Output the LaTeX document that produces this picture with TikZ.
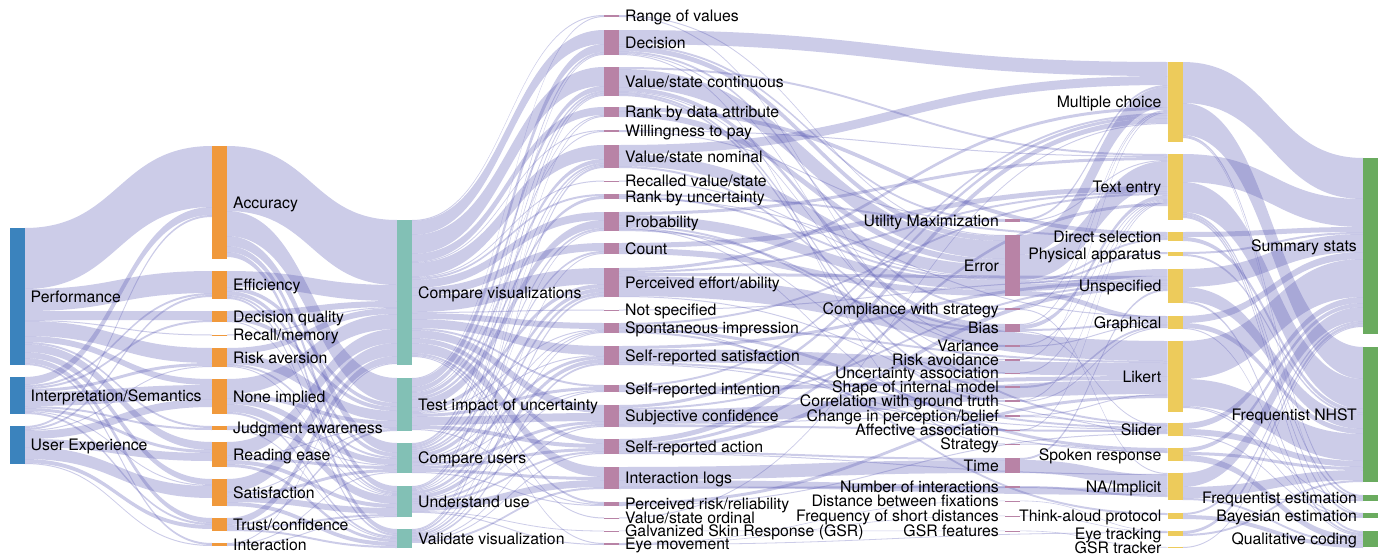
\documentclass[tikz,border=0pt]{standalone}
\usepackage{fontspec}
\setmainfont{TeX Gyre Heros}
\usepackage{xcolor}
\definecolor{colorGoal}{HTML}{3B83BD}
\definecolor{colorMeasure}{HTML}{F0993C}
\definecolor{colorStudy}{HTML}{82C0B5}
\definecolor{colorResponse}{HTML}{B883A6}
\definecolor{colorFormat}{HTML}{EDCB5B}
\definecolor{colorAnalysis}{HTML}{6AAB5F}
\definecolor{colorBand}{RGB}{85,85,178}
\usepackage{tikz}
\usetikzlibrary{calc}
\pgfdeclarelayer{bg}
\pgfsetlayers{bg,main}

\tikzset{
  band/.style={fill=colorBand, fill opacity=0.3},
  lbl/.style={font=\fontsize{15.8}{16}\selectfont, inner sep=0pt, text height=13pt, text depth=2pt},
  bar/.style={rectangle, inner sep=0pt, outer sep=0pt, minimum width=15pt, anchor=north},
  goalbar/.style={bar, fill=colorGoal, label={[lbl]right:#1}},
  measurebar/.style={bar, fill=colorMeasure, label={[lbl]right:#1}},
  studybar/.style={bar, fill=colorStudy, label={[lbl]right:#1}},
  responsebar/.style={bar, fill=colorResponse, label={[lbl]right:#1}},
  metricbar/.style={bar, fill=colorResponse, label={[lbl]left:#1}},
  formatbar/.style={bar, fill=colorFormat, label={[lbl]left:#1}},
  analysisbar/.style={bar, fill=colorAnalysis, label={[lbl]left:#1}},
}

% one band from node #1 to node #2, #3 wide; bands stack down each node
\newcommand{\flow}[3]{%
  \ifcsname fo@#1\endcsname\else\expandafter\gdef\csname fo@#1\endcsname{0}\fi
  \ifcsname fi@#2\endcsname\else\expandafter\gdef\csname fi@#2\endcsname{0}\fi
  \pgfmathsetmacro{\fso}{\csname fo@#1\endcsname}%
  \pgfmathsetmacro{\fsi}{\csname fi@#2\endcsname}%
  \path ($(#1.north east)+(0,\fso)$) coordinate (fa)
        ($(#2.north west)+(0,\fsi)$) coordinate (fb)
        ($(fa)+(0,#3)$) coordinate (fc)
        ($(fb)+(0,#3)$) coordinate (fd)
        ($(fa)!.5!(fb)$) coordinate (fm);
  \fill[band] (fa) .. controls (fa -| fm) and (fb -| fm) .. (fb) -- (fd)
    .. controls (fd -| fm) and (fc -| fm) .. (fc) -- cycle;
  \pgfmathsetmacro{\fso}{\fso+#3}\expandafter\xdef\csname fo@#1\endcsname{\fso}%
  \pgfmathsetmacro{\fsi}{\fsi+#3}\expandafter\xdef\csname fi@#2\endcsname{\fsi}%
}
\newcommand{\flows}[2]{\foreach \fdst/\fw in {#2}{\flow{#1}{\fdst}{\fw}}}

\begin{document}
\begin{tikzpicture}[x=1pt, y=-1pt, label distance=6pt]
\useasboundingbox (0,0) rectangle (1382,554);

% evaluation goals
\node[goalbar={Performance}, minimum height=137pt] (perf) at (17,228) {};
\node[goalbar={Interpretation/Semantics}, minimum height=37pt] (interp) at (17,377) {};
\node[goalbar={User Experience}, minimum height=38pt] (ux) at (17,426) {};

% measures
\node[measurebar={Accuracy}, minimum height=113pt] (acc) at (219.5,146) {};
\node[measurebar={Efficiency}, minimum height=28pt] (eff) at (219.5,271) {};
\node[measurebar={Decision quality}, minimum height=11pt] (dq) at (219.5,311) {};
\node[measurebar={Recall/memory}, minimum height=1pt] (rec) at (219.5,334.5) {};
\node[measurebar={Risk aversion}, minimum height=19pt] (ra) at (219.5,348) {};
\node[measurebar={None implied}, minimum height=35pt] (ni) at (219.5,379) {};
\node[measurebar={Judgment awareness}, minimum height=4pt] (ja) at (219.5,426) {};
\node[measurebar={Reading ease}, minimum height=25pt] (re) at (219.5,442) {};
\node[measurebar={Satisfaction}, minimum height=27pt] (sat) at (219.5,479) {};
\node[measurebar={Trust/confidence}, minimum height=13pt] (tc) at (219.5,518) {};
\node[measurebar={Interaction}, minimum height=3pt] (inter) at (219.5,543) {};

% study goals
\node[studybar={Compare visualizations}, minimum height=145pt] (cv) at (404.5,220) {};
\node[studybar={Test impact of uncertainty}, minimum height=53pt] (ti) at (404.5,378) {};
\node[studybar={Compare users}, minimum height=30pt] (cu) at (404.5,443) {};
\node[studybar={Understand use}, minimum height=31pt] (uu) at (404.5,486) {};
\node[studybar={Validate visualization}, minimum height=19pt] (vv) at (404.5,529) {};

% elicited responses
\node[responsebar={Range of values}, minimum height=2pt] (rv) at (611.5,15) {};
\node[responsebar={Decision}, minimum height=25pt] (dec) at (611.5,30) {};
\node[responsebar={Value/state continuous}, minimum height=29pt] (vsc) at (611.5,67) {};
\node[responsebar={Rank by data attribute}, minimum height=10pt] (rda) at (611.5,107) {};
\node[responsebar={Willingness to pay}, minimum height=2pt] (wtp) at (611.5,130) {};
\node[responsebar={Value/state nominal}, minimum height=23pt] (vsn) at (611.5,145) {};
\node[responsebar={Recalled value/state}, minimum height=1pt] (rvs) at (611.5,180.5) {};
\node[responsebar={Rank by uncertainty}, minimum height=5pt] (ru) at (611.5,194) {};
\node[responsebar={Probability}, minimum height=19pt] (prob) at (611.5,212) {};
\node[responsebar={Count}, minimum height=11pt] (cnt) at (611.5,243) {};
\node[responsebar={Perceived effort/ability}, minimum height=29pt] (pea) at (611.5,268) {};
\node[responsebar={Not specified}, minimum height=1pt] (ns) at (611.5,309.5) {};
\node[responsebar={Spontaneous impression}, minimum height=10pt] (si) at (611.5,323) {};
\node[responsebar={Self-reported satisfaction}, minimum height=19pt] (srs) at (611.5,346) {};
\node[responsebar={Self-reported intention}, minimum height=7pt] (sri) at (611.5,385) {};
\node[responsebar={Subjective confidence}, minimum height=22pt] (sc) at (611.5,405) {};
\node[responsebar={Self-reported action}, minimum height=15pt] (sra) at (611.5,439) {};
\node[responsebar={Interaction logs}, minimum height=22pt] (il) at (611.5,467) {};
\node[responsebar={Perceived risk/reliability}, minimum height=4pt] (prr) at (611.5,502) {};
\node[responsebar={Value/state ordinal}, minimum height=1pt] (vso) at (611.5,517.5) {};
\node[responsebar={Galvanized Skin Response (GSR)}, minimum height=0.8pt] (gsr) at (611.5,530.6) {};
\node[responsebar={Eye movement}, minimum height=2pt] (em) at (611.5,543) {};

% derived metrics
\node[metricbar={Utility Maximization}, minimum height=3pt] (um) at (1012.5,219) {};
\node[metricbar={Error}, minimum height=61pt] (err) at (1012.5,235) {};
\node[metricbar={Compliance with strategy}, minimum height=2pt] (cs) at (1012.5,308) {};
\node[metricbar={Bias}, minimum height=8pt] (bias) at (1012.5,324) {};
\node[metricbar={Variance}, minimum height=2pt] (var) at (1012.5,345) {};
\node[metricbar={Risk avoidance}, minimum height=1.5pt] (rav) at (1012.5,359) {};
\node[metricbar={Uncertainty association}, minimum height=1.5pt] (ua) at (1012.5,372.5) {};
\node[metricbar={Shape of internal model}, minimum height=2pt] (sim) at (1012.5,386) {};
\node[metricbar={Correlation with ground truth}, minimum height=2pt] (cgt) at (1012.5,400) {};
\node[metricbar={Change in perception/belief}, minimum height=2pt] (cpb) at (1012.5,415) {};
\node[metricbar={Affective association}, minimum height=1.5pt] (aa) at (1012.5,429.5) {};
\node[metricbar={Strategy}, minimum height=1.5pt] (str) at (1012.5,443.5) {};
\node[metricbar={Time}, minimum height=15pt] (time) at (1012.5,458) {};
\node[metricbar={Number of interactions}, minimum height=2pt] (noi) at (1012.5,486) {};
\node[metricbar={Distance between fixations}, minimum height=0.8pt] (dbf) at (1012.5,500.6) {};
\node[metricbar={Frequency of short distances}, minimum height=0.8pt] (fsd) at (1012.5,515.6) {};
\node[metricbar={GSR features}, minimum height=0.8pt] (gsrf) at (1012.5,530.6) {};

% response formats
\node[formatbar={Multiple choice}, minimum height=80pt] (mc) at (1175,62) {};
\node[formatbar={Text entry}, minimum height=66pt] (te) at (1175,154) {};
\node[formatbar={Direct selection}, minimum height=9pt] (ds) at (1175,232) {};
\node[formatbar={Physical apparatus}, minimum height=4pt] (pa) at (1175,252) {};
\node[formatbar={Unspecified}, minimum height=34pt] (un) at (1175,269) {};
\node[formatbar={Graphical}, minimum height=13pt] (gr) at (1175,316) {};
\node[formatbar={Likert}, minimum height=71pt] (lik) at (1175,341) {};
\node[formatbar={Slider}, minimum height=13pt] (sl) at (1175,423) {};
\node[formatbar={Spoken response}, minimum height=13pt] (sr) at (1175,448) {};
\node[formatbar={NA/Implicit}, minimum height=27pt] (na) at (1175,473) {};
\node[formatbar={Think-aloud protocol}, minimum height=6pt] (ta) at (1175,513) {};
\node[formatbar={Eye tracking}, minimum height=5pt] (et) at (1175,531) {};
\node[formatbar={GSR tracker}, minimum height=1pt] (gt) at (1175,547) {};

% analyses
\node[analysisbar={Summary stats}, minimum height=176pt] (ss) at (1370.5,158) {};
\node[analysisbar={Frequentist NHST}, minimum height=135pt] (fn) at (1370.5,347) {};
\node[analysisbar={Frequentist estimation}, minimum height=6pt] (fe) at (1370.5,495) {};
\node[analysisbar={Bayesian estimation}, minimum height=5pt] (be) at (1370.5,513) {};
\node[analysisbar={Qualitative coding}, minimum height=16pt] (qc) at (1370.5,531) {};

\begin{pgfonlayer}{bg}
% goals -> measures
\flows{perf}{acc/61, eff/22, dq/9, rec/1, ra/15, ni/6, ja/2, re/8, sat/6, tc/5, inter/2}
\flows{interp}{acc/8, eff/2, dq/2, ra/3, ni/14, ja/2, re/3, sat/1, tc/2}
\flows{ux}{acc/2, eff/2, ra/1, ni/8, re/8, sat/12, tc/4, inter/1}

% measures -> study goals
\flows{acc}{cv/65, ti/25, cu/10, uu/6, vv/5}
\flows{eff}{cv/16, ti/4, cu/4, uu/2, vv/2}
\flows{dq}{cv/6, ti/4, uu/1}
\flows{rec}{cv/1}
\flows{ra}{cv/6, ti/10, cu/2, uu/1}
\flows{ni}{cv/15, ti/4, cu/6, uu/8, vv/2}
\flows{ja}{ti/2, cu/1, vv/1}
\flows{re}{cv/14, ti/1, cu/3, uu/4, vv/3}
\flows{sat}{cv/13, ti/1, cu/3, uu/6, vv/4}
\flows{tc}{cv/7, ti/2, uu/2, vv/2}
\flows{inter}{cv/1, cu/1, uu/1}

% study goals -> elicited responses
\flows{cv}{rv/1, dec/14, vsc/19, rda/8, wtp/1, vsn/14, rvs/1, ru/2, prob/8, cnt/8, pea/16, ns/1, si/6, srs/9, sri/2, sc/8, sra/5, il/10, prr/2, vso/1, em/1}
\flows{ti}{rv/1, dec/8, vsc/5, wtp/1, vsn/4, ru/3, prob/8, pea/4, si/1, srs/1, sri/3, sc/8, sra/4, prr/1}
\flows{cu}{dec/2, vsc/2, rda/1, vsn/2, prob/2, cnt/2, pea/4, si/1, srs/3, sri/1, sc/3, sra/3, il/3, prr/1}
\flows{uu}{dec/1, vsc/2, vsn/1, prob/1, pea/3, si/1, srs/4, sri/1, sc/2, sra/2, il/7, gsr/0.8, em/1}
\flows{vv}{vsc/1, rda/1, vsn/2, cnt/1, pea/2, si/1, srs/2, sc/1, sra/1, il/2}

% elicited responses and metrics -> formats
\flows{rv}{err/1, var/1}
\flows{dec}{mc/14, um/2, err/5, cs/2, rav/1, str/1}
\flows{vsc}{te/2, err/18, bias/4, var/1, sim/2, cgt/2}
\flows{rda}{ds/4, err/6}
\flows{wtp}{te/1, um/1}
\flows{vsn}{mc/9, err/12, bias/2}
\flows{rvs}{err/1}
\flows{ru}{ds/2, err/2, gr/1}
\flows{prob}{te/3, err/10, bias/2, ua/1, cpb/1, sl/2}
\flows{um}{mc/2, te/1}
\flows{err}{mc/20, te/25, ds/2, pa/2, un/7, gr/5}
\flows{cnt}{te/5, err/6}
\flows{pea}{mc/3, te/2, un/3, lik/20, sl/1}
\flows{cs}{mc/1, na/1}
\flows{ns}{un/1}
\flows{si}{te/2, lik/2, aa/1, sr/3, ta/2}
\flows{bias}{mc/1, te/4, gr/2, sl/1}
\flows{var}{te/1, gr/1}
\flows{srs}{un/3, lik/13, sl/2, sr/1}
\flows{rav}{mc/1}
\flows{ua}{te/1}
\flows{sri}{mc/2, lik/4, sl/1}
\flows{sim}{gr/2}
\flows{cgt}{te/1, gr/1}
\flows{sc}{mc/3, un/2, lik/14, cpb/1, sl/2}
\flows{cpb}{lik/1, sl/1}
\flows{aa}{te/1}
\flows{sra}{mc/5, te/3, un/4, time/2, na/1}
\flows{str}{sr/1}
\flows{time}{un/2, na/13}
\flows{il}{time/13, na/7, noi/2}
\flows{noi}{na/2}
\flows{dbf}{et/0.6}
\flows{prr}{lik/3, sl/1}
\flows{fsd}{et/0.6}
\flows{vso}{mc/1}
\flows{gsr}{gsrf/0.6}
\flows{gsrf}{gt/0.6}
\flows{em}{dbf/0.6, fsd/0.6, et/0.8}

% formats -> analyses
\flows{mc}{ss/41, fn/32, fe/2, be/1}
\flows{te}{ss/28, fn/30, fe/2, be/2, qc/2}
\flows{ds}{ss/5, fn/4}
\flows{pa}{ss/2, fn/2}
\flows{un}{ss/18, fn/14, qc/2}
\flows{gr}{ss/7, fn/5, qc/1}
\flows{lik}{ss/38, fn/27, fe/1, be/1}
\flows{sl}{ss/6, fn/6, be/1}
\flows{sr}{ss/4, fn/3, qc/6}
\flows{na}{ss/14, fn/10, fe/1, qc/2}
\flows{ta}{ss/2, qc/4}
\flows{et}{ss/3, fn/2}
\flows{gt}{ss/1}
\end{pgfonlayer}
\end{tikzpicture}
\end{document}
